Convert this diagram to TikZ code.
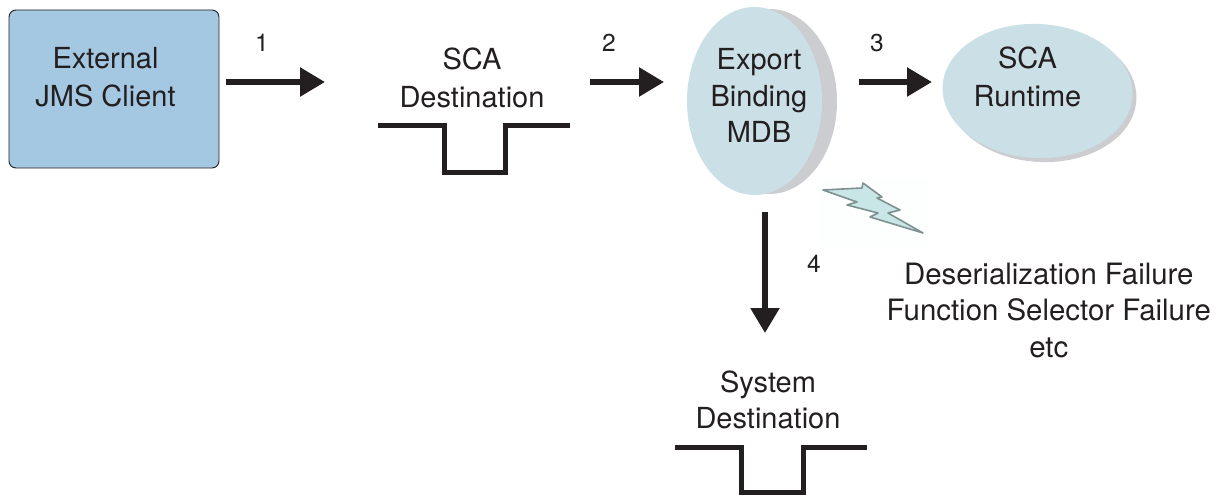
\documentclass[tikz,border=0pt]{standalone}
\usepackage{fontspec}
\setmainfont{TeX Gyre Heros}
\usetikzlibrary{arrows.meta,shapes.geometric,calc}
\definecolor{clientblue}{HTML}{A5C8E2}
\definecolor{bubble}{HTML}{CBDFE6}
\definecolor{shade}{HTML}{CBCDD0}
\definecolor{ink}{HTML}{231F20}
\definecolor{boltfill}{HTML}{C9E6E6}
\definecolor{boltedge}{HTML}{7F9090}
\tikzset{
  x=1pt,y=-1pt,
  txt/.style={text=ink,font=\fontsize{29}{37}\selectfont,align=center,inner sep=0pt},
  num/.style={text=ink,font=\fontsize{24.5}{26}\selectfont,inner sep=0pt},
  flow/.style={draw=ink,line width=5.5pt,-{Triangle[length=25pt,width=28pt]}},
  pit/.style={draw=ink,line width=5pt,miter limit=10},
  blob/.style={ellipse,fill=bubble,draw=none,inner sep=0pt},
  blobshade/.style={ellipse,fill=shade,draw=none,inner sep=0pt},
}
\begin{document}
\begin{tikzpicture}
\useasboundingbox (0,0) rectangle (1215,495);
% client
\node[draw=ink,line width=0.9pt,fill=clientblue,rounded corners=7pt,minimum width=210pt,minimum height=158pt,inner sep=0pt] (client) at (114,89) {};
\node[txt,font=\fontsize{29}{38}\selectfont] (clienttext) at (105.5,77.5) {External\\JMS Client};
% SCA destination
\node[txt,font=\fontsize{29}{38}\selectfont] (scadest) at (472,78) {SCA\\Destination};
\draw[pit] (378,125) -- (444,125) -- (444,172) -- (505,172) -- (505,125) -- (570,125);
% export binding
\node[blobshade,minimum width=135pt,minimum height=185pt] (exportshade) at (769.5,101.5) {};
\node[blob,minimum width=135pt,minimum height=188pt] (export) at (754.5,101) {};
\node[txt,font=\fontsize{29}{36.5}\selectfont] (exporttext) at (759,95.5) {Export\\Binding\\MDB};
% runtime
\node[blobshade,minimum width=190pt,minimum height=134pt,rotate=-3] (runtimeshade) at (1041.5,95) {};
\node[blob,minimum width=190pt,minimum height=134pt,rotate=-3] (runtime) at (1037.5,91) {};
\node[txt,font=\fontsize{29}{38}\selectfont] (runtimetext) at (1027.5,77) {SCA\\Runtime};
% bolt
\fill[white!97!boltfill] (818,178) rectangle (928,247);
\draw[boltedge,fill=boltfill,line width=1.6pt,line join=round]
  (823,190) -- (862,188) -- (863,183) -- (882,197) -- (877,198) -- (900,210) -- (888,213) -- (923,233) -- (870,217) -- (878,213) -- (847,205) -- (857,202) -- cycle;
\node[txt,font=\fontsize{29.4}{36.5}\selectfont] (failure) at (1048.8,310.5) {Deserialization Failure\\Function Selector Failure\\etc};
% system destination
\node[txt,font=\fontsize{29}{36}\selectfont] (sysdest) at (768,400) {System\\Destination};
\draw[pit] (675,447) -- (741,447) -- (741,492) -- (803,492) -- (803,447) -- (867,447);
% connectors
\draw[flow] ([shift={(7,-7)}]client.east) -- ([shift={(-147,4)}]scadest.center);
\draw[flow] ([shift={(118,4)}]scadest.center) -- ([shift={(-90.5,-19)}]export.center);
\draw[flow] ([shift={(104.5,-19)}]export.center) -- ([shift={(-105.5,-9)}]runtime.center);
\draw[flow] ([shift={(10.5,111)}]export.center) -- ([shift={(-3,-67)}]sysdest.center);
% numbers
\node[num] (n1) at (262,43) {1};
\node[num] (n2) at (609,43) {2};
\node[num] (n3) at (877,43) {3};
\node[num] (n4) at (814,264) {4};
\end{tikzpicture}
\end{document}
